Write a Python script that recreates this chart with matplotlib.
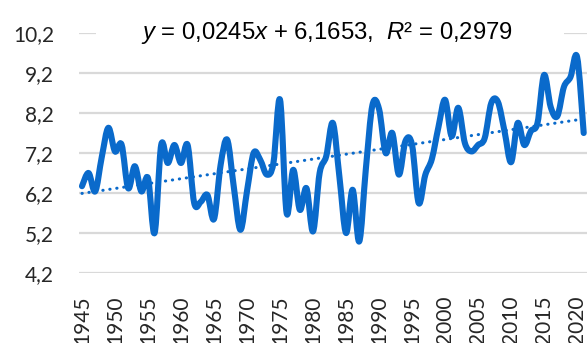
import numpy as np
import matplotlib
matplotlib.use("Agg")
import matplotlib.pyplot as plt
from matplotlib.path import Path
from matplotlib.patches import PathPatch, Rectangle
from matplotlib.ticker import FuncFormatter

# ------------------------------
# data
# ------------------------------
years = list(range(1945, 2022))
values = [
    6.37, 6.70, 6.24, 7.10, 7.83, 7.24, 7.41, 6.32, 6.87, 6.24,
    6.57, 5.20, 7.40, 6.95, 7.40, 6.95, 7.40, 5.95, 5.98, 6.15,
    5.55, 6.90, 7.53, 6.35, 5.28, 6.25, 7.20, 7.03, 6.66, 6.95,
    8.53, 5.70, 6.78, 5.78, 6.32, 5.24, 6.70, 7.12, 7.95, 6.60,
    5.20, 6.28, 4.99, 6.80, 8.40, 8.30, 7.20, 7.70, 6.66, 7.50,
    7.40, 5.95, 6.65, 7.05, 7.85, 8.53, 7.62, 8.33, 7.45, 7.24,
    7.40, 7.57, 8.45, 8.48, 7.75, 6.97, 7.95, 7.40, 7.75, 7.95,
    9.15, 8.35, 8.12, 8.85, 9.10, 9.60, 7.70,
]
slope = 0.0245
intercept = 6.1653
r2 = 0.2979
yticks = [4.2, 5.2, 6.2, 7.2, 8.2, 9.2, 10.2]
xtick_years = list(range(1945, 2021, 5))

blue = "#0A6ACB"
grid_col = "#D9D9D9"
plt.rcParams["font.family"] = ["Lato", "DejaVu Sans"]
plt.rcParams["mathtext.fontset"] = "custom"
plt.rcParams["mathtext.rm"] = "Liberation Sans"
plt.rcParams["mathtext.it"] = "Liberation Sans:italic"


def smooth_path(xs, ys):
    # Excel style smoothed line: cubic bezier through every point
    xs = np.asarray(xs, float)
    ys = np.asarray(ys, float)
    pts = np.column_stack([xs, ys])
    verts = [pts[0]]
    codes = [Path.MOVETO]
    n = len(pts)
    for i in range(n - 1):
        p0 = pts[i - 1] if i > 0 else pts[i]
        p1 = pts[i]
        p2 = pts[i + 1]
        p3 = pts[i + 2] if i + 2 < n else pts[i + 1]
        c1 = p1 + (p2 - p0) / 6.0
        c2 = p2 - (p3 - p1) / 6.0
        verts += [c1, c2, p2]
        codes += [Path.CURVE4] * 3
    return Path(verts, codes)


fig = plt.figure(figsize=(5.87, 3.43), dpi=100)
ax = fig.add_axes([79 / 587, 70 / 343, 508 / 587, 240 / 343])

patch = PathPatch(smooth_path(years, values), fill=False, edgecolor=blue,
                  lw=4.4, capstyle="round", joinstyle="round", zorder=3)
ax.add_patch(patch)

idx = np.arange(1, len(years) + 1)
trend = slope * idx + intercept
ax.plot(years, trend, color=blue, lw=2.2, linestyle=(0, (0.1, 2.2)),
        dash_capstyle="round", zorder=2)

ax.set_xlim(years[0] - 0.45, years[-1] + 0.5)
ax.set_ylim(yticks[0], yticks[-1])
ax.set_yticks(yticks)
ax.set_xticks(xtick_years)
ax.set_xticklabels([str(y) for y in xtick_years], rotation=90, va="top")
ax.yaxis.set_major_formatter(FuncFormatter(lambda v, p: f"{v:.1f}".replace(".", ",")))
ax.tick_params(axis="y", length=0, pad=18, labelsize=15, labelcolor="#262626")
ax.tick_params(axis="x", length=0, pad=16, labelsize=15, labelcolor="#262626")
ax.grid(axis="y", color=grid_col, lw=1.6, zorder=0)
ax.set_axisbelow(True)
for s in ax.spines.values():
    s.set_visible(False)

# equation label (white box hides the top gridline)
ax.add_patch(Rectangle((17 / 508, 1 - 12 / 240), 468 / 508, 24 / 240,
                       transform=ax.transAxes, facecolor="white",
                       edgecolor="none", clip_on=False, zorder=4))
eq = (r"$y$ = " + f"{slope:.4f}".replace(".", ",") + r"$x$ + "
      + f"{intercept:.4f}".replace(".", ",") + r",  $R$² = "
      + f"{r2:.4f}".replace(".", ","))
ax.text(0.489, 1.0, eq, transform=ax.transAxes, ha="center", va="center",
        fontsize=17.2, family="Liberation Sans", color="black", zorder=5)

fig.savefig("out.png", dpi=100)
